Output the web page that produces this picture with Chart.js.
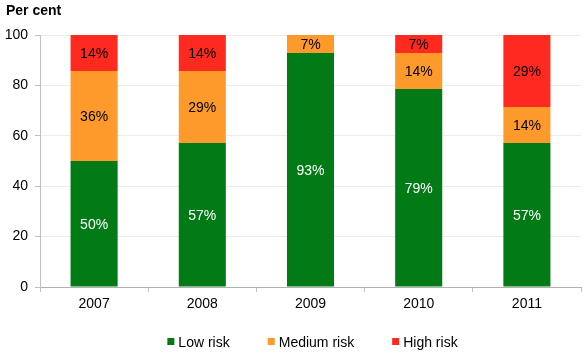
<!DOCTYPE html>
<html><head><meta charset="utf-8">
<script src="https://cdn.jsdelivr.net/npm/chart.js@4/dist/chart.umd.min.js"></script>
<style>html,body{margin:0;padding:0;background:#fff}#wrap{width:586px;height:357px}</style>
</head><body><div id="wrap"><canvas id="c" width="586" height="357"></canvas></div>
<script>
const categories = ['2007', '2008', '2009', '2010', '2011'];
const lowRisk = [50, 57.1, 92.9, 78.6, 57.1];
const mediumRisk = [35.7, 28.6, 7.1, 14.3, 14.3];
const highRisk = [14.3, 14.3, 0, 7.1, 28.6];
const seriesNames = ['Low risk', 'Medium risk', 'High risk'];
const yTicks = [0, 20, 40, 60, 80, 100];

const FONT = "'Liberation Sans', Arial, sans-serif";
const colors = ['#027B16', '#FD9A2B', '#FE2A1F'];
const labelColors = ['#ffffff', '#000000', '#000000'];

const labelPlugin = {
  id: 'segLabels',
  afterDatasetsDraw(chart) {
    const ctx = chart.ctx;
    ctx.save();
    ctx.font = '14px ' + FONT;
    ctx.textAlign = 'center';
    ctx.textBaseline = 'middle';
    chart.data.datasets.forEach((ds, i) => {
      const meta = chart.getDatasetMeta(i);
      meta.data.forEach((bar, j) => {
        const v = ds.data[j];
        if (!v) return;
        const p = bar.getProps(['x', 'y', 'base'], true);
        ctx.fillStyle = labelColors[i];
        ctx.fillText(Math.round(v) + '%', p.x, (p.y + p.base) / 2 + 1);
      });
    });
    // title
    ctx.font = 'bold 14px ' + FONT;
    ctx.textAlign = 'left';
    ctx.textBaseline = 'alphabetic';
    ctx.fillStyle = '#000';
    ctx.fillText('Per cent', 6, 15);
    // legend
    ctx.font = '14px ' + FONT;
    const box = 7, gapText = 4, gapItem = 38;
    const widths = seriesNames.map(n => box + gapText + ctx.measureText(n).width);
    const total = widths.reduce((a, b) => a + b, 0) + gapItem * (widths.length - 1);
    const ca = chart.chartArea;
    let x = (ca.left + ca.right) / 2 - total / 2 + 2;
    const yc = 342;
    ctx.textBaseline = 'middle';
    seriesNames.forEach((n, i) => {
      ctx.fillStyle = colors[i];
      ctx.fillRect(x, yc - 4, box, box);
      ctx.fillStyle = '#000';
      ctx.fillText(n, x + box + gapText, yc + 1);
      x += widths[i] + gapItem;
    });
    ctx.restore();
  }
};

const datasets = [lowRisk, mediumRisk, highRisk].map((d, i) => ({
  label: seriesNames[i],
  data: d,
  backgroundColor: colors[i],
  borderWidth: 0,
  barPercentage: 0.435,
  categoryPercentage: 1.0
}));

new Chart(document.getElementById('c'), {
  type: 'bar',
  data: { labels: categories, datasets },
  options: {
    responsive: false,
    animation: false,
    devicePixelRatio: 1,
    layout: { padding: { top: 35, right: 5, bottom: 0, left: 0 } },
    plugins: { legend: { display: false }, tooltip: { enabled: false }, title: { display: false } },
    scales: {
      x: {
        stacked: true,
        grid: { display: true, drawOnChartArea: false, offset: true, tickLength: 5, color: '#c0c0c0', tickColor: '#c0c0c0' },
        border: { display: true, color: '#b0b0b0', width: 1 },
        ticks: { font: { family: FONT, size: 14 }, color: '#000', padding: 4, maxRotation: 0 },
        afterFit(s) { s.height = 70; }
      },
      y: {
        stacked: true,
        min: 0, max: 100,
        afterBuildTicks(s) { s.ticks = yTicks.map(v => ({ value: v })); },
        grid: { color: '#ececec', tickLength: 5, tickColor: '#c0c0c0', drawTicks: true },
        border: { display: true, color: '#c0c0c0', width: 1 },
        ticks: { font: { family: FONT, size: 14 }, color: '#000', padding: 7 },
        afterFit(s) { s.width = 40; }
      }
    }
  },
  plugins: [labelPlugin]
});
</script></body></html>
